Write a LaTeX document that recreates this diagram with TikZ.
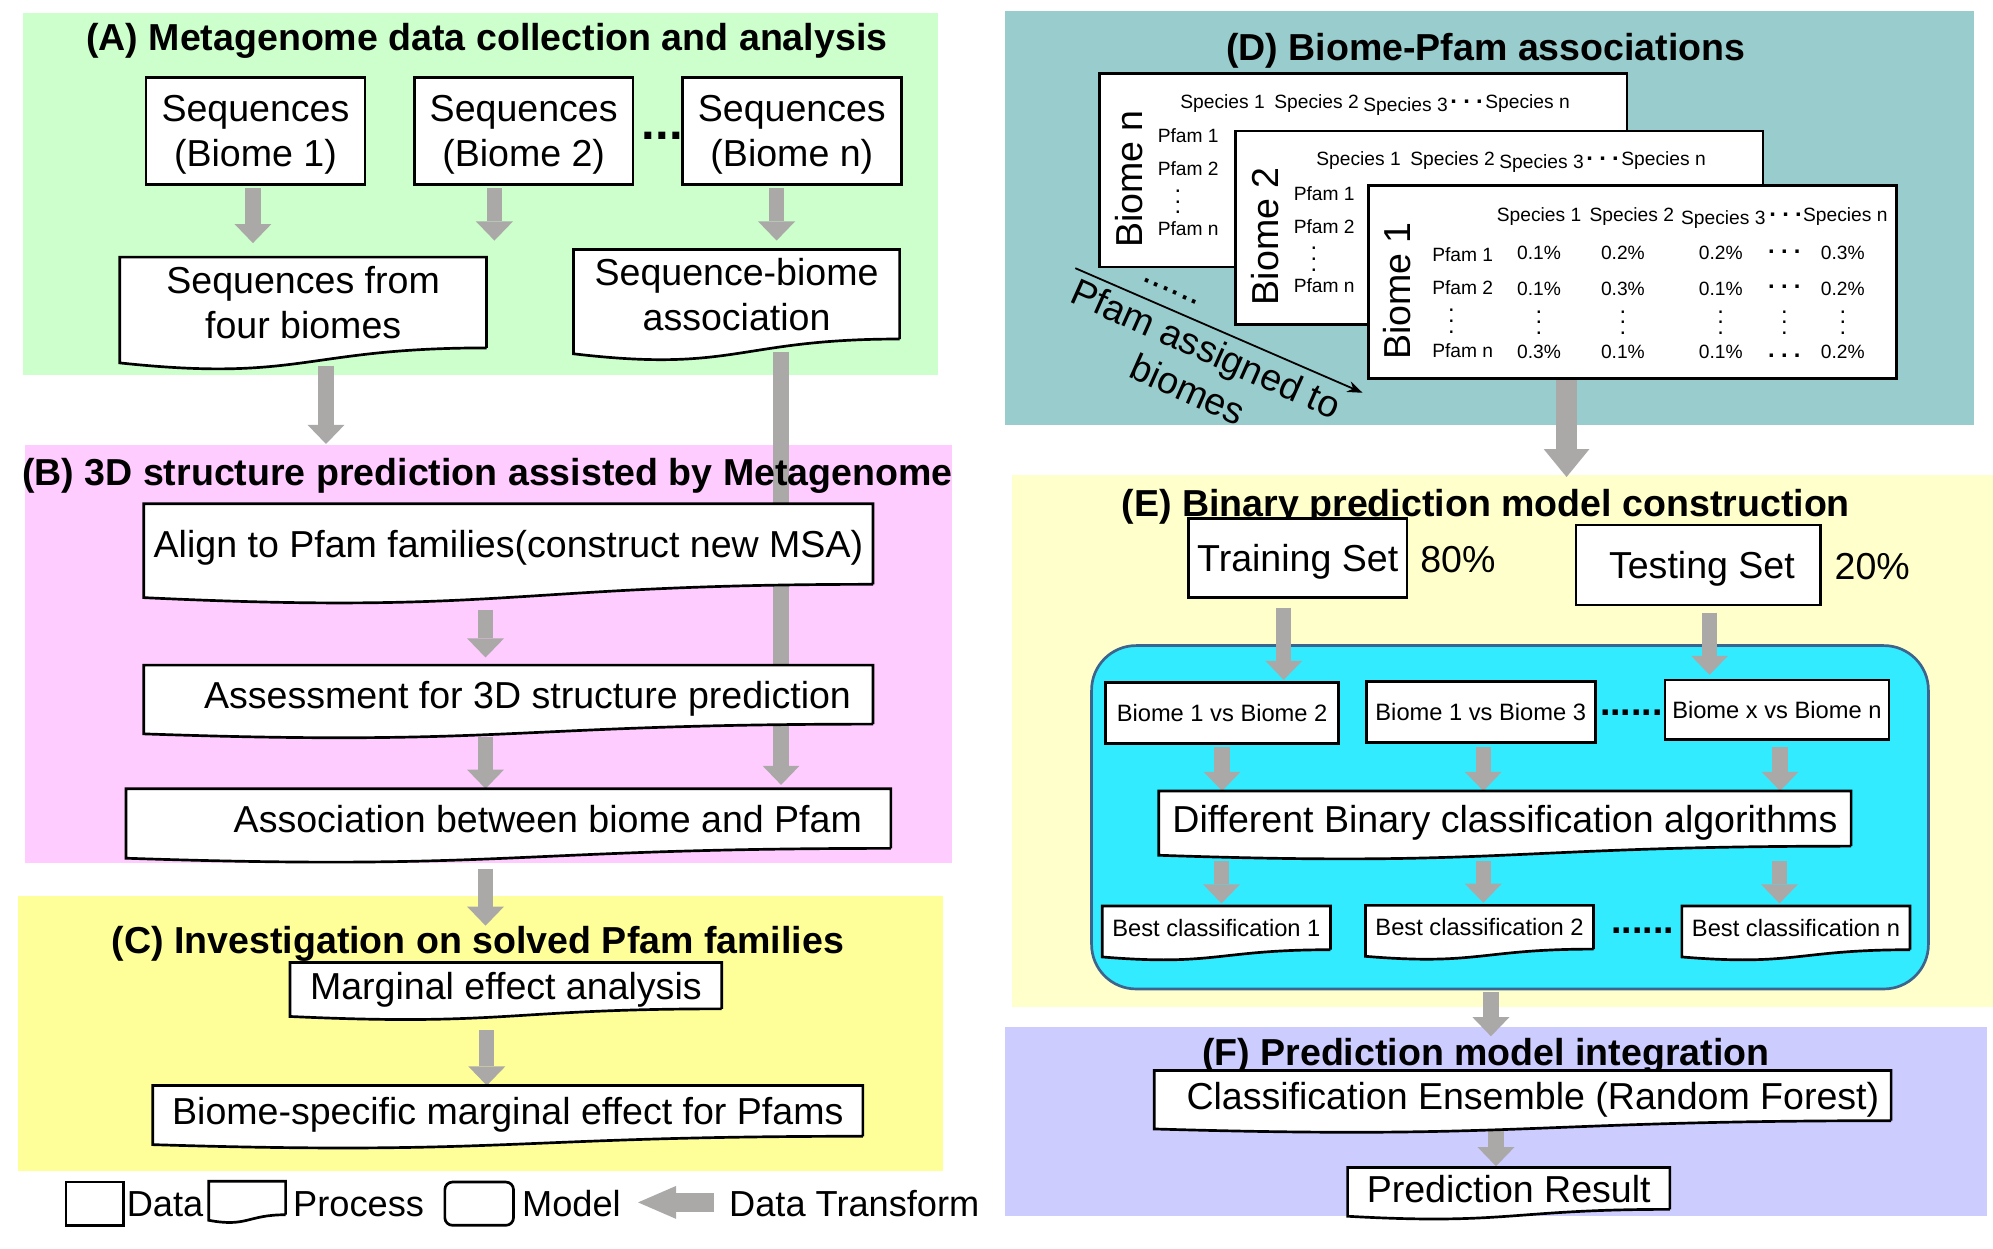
\documentclass[tikz,border=0pt]{standalone}
\usepackage{fontspec}
\setmainfont{Liberation Sans}
\usetikzlibrary{arrows.meta,positioning,fit,calc}
\definecolor{PanelGreen}{RGB}{204,255,204}
\definecolor{PanelPink}{RGB}{255,204,255}
\definecolor{PanelYellow}{RGB}{255,255,153}
\definecolor{PanelTeal}{RGB}{153,204,204}
\definecolor{PanelCream}{RGB}{255,255,204}
\definecolor{PanelLilac}{RGB}{204,204,255}
\definecolor{ModelCyan}{RGB}{51,235,255}
\definecolor{ModelEdge}{RGB}{60,100,140}
\definecolor{FlowGray}{RGB}{171,168,168}
\newcommand{\bodysize}{\fontsize{8.4}{10}\selectfont}
\newcommand{\legendsize}{\fontsize{8.1}{10}\selectfont}
\newcommand{\smallsize}{\fontsize{5.3}{6.4}\selectfont}
\newcommand{\tinysize}{\fontsize{4.3}{5.2}\selectfont}
\newcommand{\colondots}{{\smallsize\vbox{\baselineskip=2.4pt\lineskip=0pt\lineskiplimit=-10pt\hbox{.}\hbox{.}\hbox{.}}}}
\newcommand{\rowdots}{{\smallsize\bfseries .\hspace{1.4pt}.\hspace{1.4pt}.}}
% outline of a process (document) box round a named node
\newcommand{\docwave}[1]{%
  \fill[white] ($(#1.south east)+(0,-1)$) -- (#1.south east) .. controls (#1.south) and ($(#1.south)!-0.38!(#1.north)$) .. ($(#1.south west)!-0.165!(#1.north west)$) -- ($(#1.south west)+(0,-1)$) -- cycle;
  \draw[docline] (#1.south east) -- (#1.north east) -- (#1.north west) -- ($(#1.south west)!-0.165!(#1.north west)$) .. controls ($(#1.south)!-0.38!(#1.north)$) and (#1.south) .. (#1.south east);
}
\pgfdeclarelayer{back}
\pgfdeclarelayer{flows}
\pgfsetlayers{back,flows,main}
\tikzset{
  panel/.style={inner sep=0pt, draw=none},
  paneltitle/.style={font=\bfseries\bodysize, inner sep=0pt, text depth=0pt},
  plaintext/.style={font=\bodysize, inner sep=0pt, align=center, text depth=0pt},
  legendtext/.style={font=\legendsize, inner sep=0pt, text depth=0pt},
  databox/.style={draw=black, line width=0.6pt, fill=white, inner sep=0pt, align=center, font=\bodysize, text depth=0pt},
  procbox/.style={fill=white, inner sep=0pt, align=center, font=\bodysize, text depth=0pt},
  docline/.style={draw=black, line width=0.6pt, line join=miter},
  modelbox/.style={draw=ModelEdge, line width=0.6pt, fill=ModelCyan, rounded corners=0.35cm},
  cardbox/.style={draw=black, line width=0.6pt, fill=white, inner sep=0pt, minimum width=4.15cm, minimum height=1.52cm},
  tabletext/.style={font=\tinysize, inner sep=0pt, text depth=0pt},
  dotrow/.style={font=\bfseries\bodysize, inner sep=0pt},
  flow/.style={draw=FlowGray, line width=0.12cm, -{Triangle[length=0.15cm,width=0.29cm,line width=0pt]}},
  bigflow/.style={draw=FlowGray, line width=0.17cm, -{Triangle[length=0.22cm,width=0.36cm,line width=0pt]}},
  legflow/.style={draw=FlowGray, line width=0.15cm, -{Triangle[length=0.30cm,width=0.26cm,line width=0pt]}},
  assignarrow/.style={draw=black, line width=0.4pt, -{Stealth[length=0.12cm,width=0.09cm]}}
}

\begin{document}
\begin{tikzpicture}[x=0.01cm,y=-0.01cm]
  \begin{pgfonlayer}{back}
    \useasboundingbox[fill=white] (0,0) rectangle (1568,982);
    \node[panel, fill=PanelGreen, fit={(18,10) (738,295)}] (panelA) {};
    \node[panel, fill=PanelPink, fit={(20,350) (749,679)}] (panelB) {};
    \node[panel, fill=PanelYellow, fit={(14,705) (742,921)}] (panelC) {};
    \node[panel, fill=PanelTeal, fit={(791,9) (1553,334)}] (panelD) {};
    \node[panel, fill=PanelCream, fit={(796,374) (1568,792)}] (panelE) {};
    \node[panel, fill=PanelLilac, fit={(791,808) (1563,957)}] (panelF) {};
    \node[modelbox, minimum width=6.58cm, minimum height=2.70cm] (model) at (1188,643) {};
  \end{pgfonlayer}

  % (A)
  \node[paneltitle] (titleA) at (383,29) {(A) Metagenome data collection and analysis};
  \node[databox, minimum width=1.72cm, minimum height=0.84cm] (seqone) at (201,103) {Sequences\\(Biome 1)};
  \node[databox, minimum width=1.72cm, minimum height=0.84cm] (seqtwo) at (412,103) {Sequences\\(Biome 2)};
  \node[databox, minimum width=1.72cm, minimum height=0.84cm] (seqn) at (623,103) {Sequences\\(Biome n)};
  \node[dotrow, font=\bfseries\fontsize{11}{12}\selectfont] (seqdots) at (521,107) {...};
  \node[procbox, minimum width=2.87cm, minimum height=0.70cm] (seqfour) at (238.5,238) {Sequences from\\four biomes};
  \node[procbox, minimum width=2.55cm, minimum height=0.69cm] (seqassoc) at (579.5,231.5) {Sequence-biome\\association};

  % (B)
  \node[paneltitle] (titleB) at (383.5,371) {(B) 3D structure prediction assisted by Metagenome};
  \node[procbox, minimum width=5.72cm, minimum height=0.62cm] (align) at (400,428) {Align to Pfam families(construct new MSA)};
  \node[procbox, minimum width=5.72cm, minimum height=0.45cm] (assess) at (400,546.5) {\hspace*{0.30cm}Assessment for 3D structure prediction};
  \node[procbox, minimum width=6.00cm, minimum height=0.455cm] (assoc) at (400,644) {\hspace*{0.62cm}Association between biome and Pfam};

  % (C)
  \node[paneltitle] (titleC) at (376,739.5) {(C) Investigation on solved Pfam families};
  \node[procbox, minimum width=3.38cm, minimum height=0.35cm] (marg) at (398,775.5) {Marginal effect analysis};
  \node[procbox, minimum width=5.57cm, minimum height=0.385cm] (bspec) at (399.5,874) {Biome-specific marginal effect for Pfams};

  % legend
  \node[databox, minimum width=0.45cm, minimum height=0.34cm] (legdata) at (74.5,947) {};
  \node[legendtext, right=0.01cm of legdata] (legdatatxt) {Data};
  \node[procbox, minimum width=0.59cm, minimum height=0.25cm] (legproc) at (194.5,942.5) {};
  \node[legendtext, anchor=west] (legproctxt) at (230,947) {Process};
  \node[databox, rounded corners=0.06cm, minimum width=0.54cm, minimum height=0.34cm] (legmodel) at (377,947) {};
  \node[legendtext, right=0.05cm of legmodel] (legmodeltxt) {Model};
  \node[legendtext, anchor=west] (legflowtxt) at (573,947) {Data Transform};
  \coordinate (legtip) at (502,946);

  % (D)
  \node[paneltitle] (titleD) at (1169,37) {(D) Biome-Pfam associations};
  \foreach \nm/\cx/\cy/\bid in {cardn/1072.5/134/n, cardtwo/1179.5/179/2}{
    \node[cardbox] (\nm) at (\cx,\cy) {};
    \node[plaintext, rotate=90] (\nm-bio) at ($(\nm.north west)+(24,84)$) {Biome \bid};
    \foreach \sx/\sy/\stxt in {98/23/Species 1, 172/23/Species 2, 242/25/Species 3, 338/23/Species n}
      \node[tabletext] (\nm-s\sx) at ($(\nm.north west)+(\sx,\sy)$) {\stxt};
    \node[tabletext] (\nm-sdots) at ($(\nm.north west)+(290,23)$) {\rowdots};
    \foreach \py/\ptxt in {50/Pfam 1, 76/Pfam 2, 123/Pfam n}
      \node[tabletext] (\nm-p\py) at ($(\nm.north west)+(71,\py)$) {\ptxt};
    \node[tabletext] (\nm-pdots) at ($(\nm.north west)+(63,102)$) {\colondots};
  }
  \node[cardbox] (cardone) at (1284.5,222) {};
  \node[plaintext, rotate=90] (cardone-bio) at ($(cardone.north west)+(23,84)$) {Biome 1};
  \foreach \sx/\sy/\stxt in {135/24/Species 1, 208/24/Species 2, 280/26/Species 3, 376/24/Species n}
    \node[tabletext] (cardone-s\sx) at ($(cardone.north west)+(\sx,\sy)$) {\stxt};
  \node[tabletext] (cardone-sdots) at ($(cardone.north west)+(329,24)$) {\rowdots};
  \foreach \py/\ptxt in {55/Pfam 1, 81/Pfam 2, 131/Pfam n}
    \node[tabletext] (cardone-p\py) at ($(cardone.north west)+(75,\py)$) {\ptxt};
  \node[tabletext] (cardone-pdots) at ($(cardone.north west)+(66,108)$) {\colondots};
  \foreach \vx/\va/\vb/\vc in {135/0.1/0.1/0.3, 201/0.2/0.3/0.1, 278/0.2/0.1/0.1, 374/0.3/0.2/0.2}{
    \node[tabletext] (cardone-\vx-a) at ($(cardone.north west)+(\vx,54)$) {\va\%};
    \node[tabletext] (cardone-\vx-b) at ($(cardone.north west)+(\vx,82)$) {\vb\%};
    \node[tabletext] (cardone-\vx-d) at ($(cardone.north west)+(\vx,109)$) {\colondots};
    \node[tabletext] (cardone-\vx-c) at ($(cardone.north west)+(\vx,132)$) {\vc\%};
  }
  \node[tabletext] (cardone-328-a) at ($(cardone.north west)+(328,53)$) {\rowdots};
  \node[tabletext] (cardone-328-b) at ($(cardone.north west)+(328,81)$) {\rowdots};
  \node[tabletext] (cardone-328-d) at ($(cardone.north west)+(328,109)$) {\colondots};
  \node[tabletext] (cardone-328-c) at ($(cardone.north west)+(328,135)$) {\rowdots};
  \coordinate (assignfrom) at (846,211);
  \coordinate (assignto) at (1072,309);
  \draw[assignarrow] (assignfrom) -- (assignto);
  \node[plaintext, rotate=-24] (carddots) at (921,229) {......};
  \node[plaintext, rotate=-24] (assigntxt) at (942,290) {Pfam assigned to\\biomes};

  % (E)
  \node[paneltitle] (titleE) at (1169,395.5) {(E) Binary prediction model construction};
  \node[databox, minimum width=1.72cm, minimum height=0.62cm] (train) at (1021,439) {Training Set};
  \node[plaintext] (trainpct) at (1147,440) {80\%};
  \node[databox, minimum width=1.92cm, minimum height=0.63cm] (test) at (1336,444.5) {\hspace*{0.06cm}Testing Set};
  \node[plaintext] (testpct) at (1473,445.5) {20\%};
  \node[databox, font=\smallsize, minimum width=1.83cm, minimum height=0.48cm] (pairone) at (961.5,561) {Biome 1 vs Biome 2};
  \node[databox, font=\smallsize, minimum width=1.80cm, minimum height=0.48cm] (pairtwo) at (1165,560) {Biome 1 vs Biome 3};
  \node[databox, font=\smallsize, minimum width=1.76cm, minimum height=0.47cm] (pairn) at (1398,558.5) {Biome x vs Biome n};
  \node[dotrow] (pairdots) at (1283.5,561) {......};
  \node[procbox, minimum width=5.43cm, minimum height=0.42cm] (algo) at (1184,644) {Different Binary classification algorithms};
  \node[procbox, font=\smallsize, minimum width=1.78cm, minimum height=0.33cm] (bestone) at (957,730) {Best classification 1};
  \node[procbox, font=\smallsize, minimum width=1.78cm, minimum height=0.33cm] (besttwo) at (1164,729.5) {Best classification 2};
  \node[procbox, font=\smallsize, minimum width=1.78cm, minimum height=0.33cm] (bestn) at (1413,730) {Best classification n};
  \node[dotrow] (bestdots) at (1292.5,732) {......};

  % (F)
  \node[paneltitle] (titleF) at (1169,827.5) {(F) Prediction model integration};
  \node[procbox, minimum width=5.78cm, minimum height=0.38cm] (ens) at (1198,862) {\hspace*{0.16cm}Classification Ensemble (Random Forest)};
  \node[procbox, minimum width=2.52cm, minimum height=0.315cm] (result) at (1187,935) {Prediction Result};

  \foreach \n in {seqfour,seqassoc,align,assess,assoc,marg,bspec,legproc,algo,bestone,besttwo,bestn,ens,result}
    {\docwave{\n}}

  \begin{pgfonlayer}{flows}
    \draw[flow] ($(seqone.south)+(-2,2)$) -- ($(seqone.south |- seqfour.north)+(-2,-11)$);
    \draw[flow] ($(seqtwo.south)+(-23,2)$) -- ($(seqtwo.south |- seqfour.north)+(-23,-13)$);
    \draw[flow] ($(seqn.south)+(-12,2)$) -- ($(seqn.south |- seqassoc.north)+(-12,-7)$);
    \draw[flow] ($(seqfour.south)+(18,14)$) -- ($(seqfour.south |- panelB.north)+(18,0)$);
    \draw[flow] ($(seqassoc.south)+(35,10)$) -- ($(seqassoc.south |- assoc.north)+(35,-3)$);
    \draw[flow] ($(align.south)+(-18,20)$) -- ($(align.south |- assess.north)+(-18,-6)$);
    \draw[flow] ($(assess.south)+(-18,10)$) -- ($(assess.south |- assoc.north)+(-18,0)$);
    \draw[flow] ($(assoc.south)+(-18,16)$) -- ($(assoc.south |- marg.north)+(-18,-29)$);
    \draw[flow] ($(marg.south)+(-15,17)$) -- ($(marg.south |- bspec.north)+(-15,0)$);
    \draw[legflow] ($(legflowtxt.west)+(-11,-1)$) -- (legtip);
    \draw[bigflow] ($(cardone.south)+(-52,0)$) -- ($(cardone.south |- panelE.north)+(-52,2)$);
    \draw[flow] ($(train.south)+(-11,7)$) -- ($(train.south |- pairone.north)+(-11,-1)$);
    \draw[flow] ($(test.south)+(9,5)$) -- ($(test.south |- pairn.north)+(9,-3)$);
    \draw[flow] ($(pairone.south)+(0,2)$) -- (pairone.south |- algo.north);
    \draw[flow] ($(pairtwo.south)+(2,3)$) -- ($(pairtwo.south |- algo.north)+(2,0)$);
    \draw[flow] ($(pairn.south)+(2.5,5)$) -- ($(pairn.south |- algo.north)+(2.5,0)$);
    \draw[flow] ($(algo.south -| bestone.north)+(4,12)$) -- ($(bestone.north)+(4,-2)$);
    \draw[flow] ($(algo.south -| besttwo.north)+(3,12)$) -- ($(besttwo.north)+(3,-2)$);
    \draw[flow] ($(algo.south -| bestn.north)+(-13,12)$) -- ($(bestn.north)+(-13,-2)$);
    \draw[flow] ($(model.south)+(-15,1)$) -- ($(model.south |- panelF.north)+(-15,8)$);
    \draw[flow] ($(ens.south)+(-21,7)$) -- ($(ens.south |- result.north)+(-21,-1)$);
  \end{pgfonlayer}
\end{tikzpicture}
\end{document}
